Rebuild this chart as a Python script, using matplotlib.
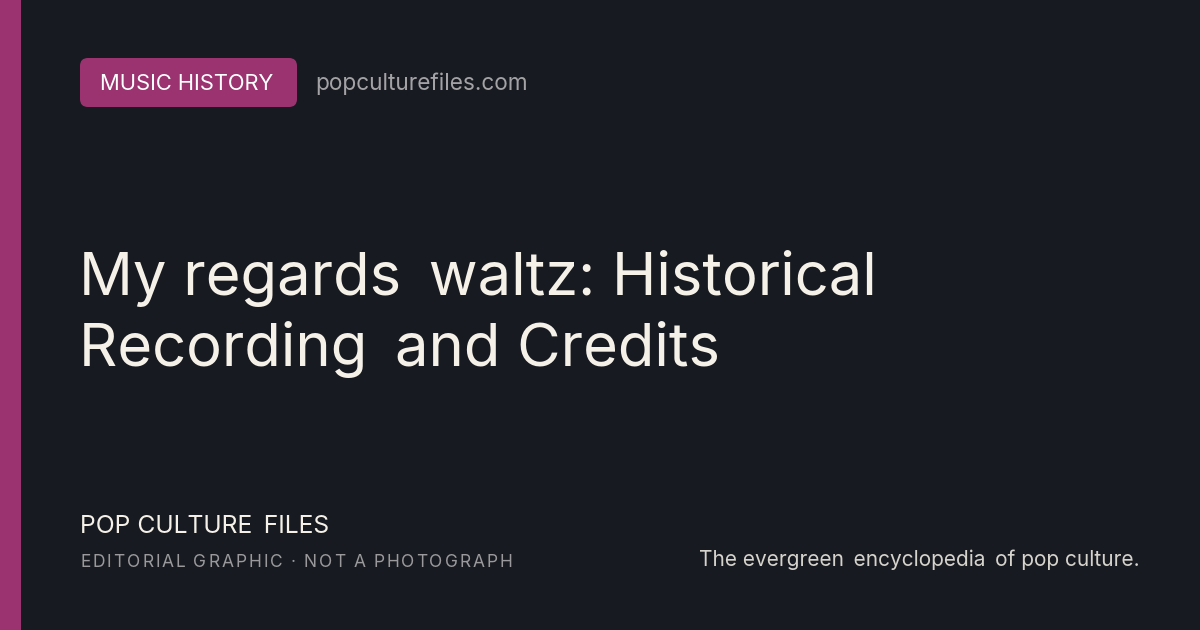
import matplotlib.pyplot as plt
from matplotlib.patches import FancyBboxPatch, Rectangle

plt.rcParams['font.family'] = ['Inter', 'DejaVu Sans']

gap = " \u2009"  # a bit wider than a single space
badge = "MUSIC HISTORY"
site = "popculturefiles.com"
title_lines = ["My regards" + gap + "waltz: Historical", "Recording" + gap + "and Credits"]
brand = "POP CULTURE" + gap + "FILES"
note = "EDITORIAL GRAPHIC · NOT A PHOTOGRAPH"
tagline = "The evergreen" + gap + "encyclopedia" + gap + "of pop culture."

bg = "#181a21"
accent = "#9b3370"
cream = "#f5f1e8"

fig = plt.figure(figsize=(12, 6.3), dpi=100, facecolor=bg)
ax = fig.add_axes([0, 0, 1, 1])
ax.set_xlim(0, 1200)
ax.set_ylim(630, 0)
ax.axis("off")
ax.set_facecolor(bg)

# left stripe
ax.add_patch(Rectangle((0, 0), 21, 630, color=accent, lw=0))

# badge
ax.add_patch(FancyBboxPatch((80, 58), 217, 49, boxstyle="round,pad=0,rounding_size=8",
                            fc=accent, ec="none"))
ax.text(187, 90, badge, color="white", fontsize=15.8, ha="center", va="baseline")
ax.text(315, 90, site, color="#a3a3a6", fontsize=16.3, ha="left", va="baseline")

# title
ax.text(79, 295, title_lines[0], color=cream, fontsize=43, va="baseline")
ax.text(79, 366, title_lines[1], color=cream, fontsize=43, va="baseline")

ax.text(80, 533, brand, color=cream, fontsize=17.8, va="baseline")

# spaced-out caps line
fig.canvas.draw()
r = fig.canvas.get_renderer()
x = 80
for ch in note:
    t = ax.text(x, 567, ch, color="#9a9a9c", fontsize=12.5, va="baseline")
    w = t.get_window_extent(renderer=r).width
    if ch == " ":
        w = 4
    x += w + 2.0

ax.text(1140, 566, tagline, color="#d6d3cc", fontsize=15, ha="right", va="baseline")

fig.savefig("out.png", dpi=100, facecolor=bg)
